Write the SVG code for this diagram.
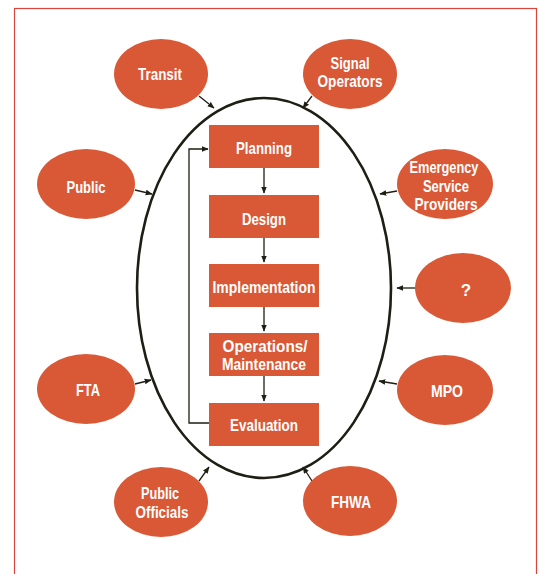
<svg xmlns="http://www.w3.org/2000/svg" width="541" height="574" viewBox="0 0 541 574">
<style>
.node{fill:#d95835}
.t{font-family:"Liberation Sans",Arial,sans-serif;font-weight:bold;font-size:17px;fill:#ffffff;text-anchor:middle}
.c{stroke:#1e1e14;stroke-width:1.3;fill:none}
</style>
<defs>
<marker id="ah" viewBox="0 0 10 10" refX="9" refY="5" markerWidth="7" markerHeight="7" markerUnits="userSpaceOnUse" orient="auto">
<path d="M0,1 L10,5 L0,9 z" fill="#1e1e14"/>
</marker>
</defs>
<rect x="14.5" y="8.5" width="522" height="620" fill="#ffffff" stroke="#d9453a" stroke-width="1.2"/>
<g id="frame">
<ellipse cx="264" cy="288" rx="127" ry="190" fill="none" stroke="#1e1e14" stroke-width="2.6"/>
</g>
<g id="connectors">
<line class="c" x1="264" y1="168" x2="264" y2="193" marker-end="url(#ah)"/>
<line class="c" x1="264" y1="238" x2="264" y2="262" marker-end="url(#ah)"/>
<line class="c" x1="264" y1="307" x2="264" y2="331" marker-end="url(#ah)"/>
<line class="c" x1="264" y1="376" x2="264" y2="401" marker-end="url(#ah)"/>
<polyline class="c" points="209,423 189,423 189,149 208,149" marker-end="url(#ah)"/>
<line class="c" x1="199" y1="96" x2="214" y2="108" marker-end="url(#ah)"/>
<line class="c" x1="312" y1="96" x2="303" y2="108" marker-end="url(#ah)"/>
<line class="c" x1="135" y1="190" x2="152" y2="194" marker-end="url(#ah)"/>
<line class="c" x1="397" y1="191" x2="380" y2="194" marker-end="url(#ah)"/>
<line class="c" x1="415" y1="288" x2="397" y2="288" marker-end="url(#ah)"/>
<line class="c" x1="135" y1="384" x2="151" y2="380" marker-end="url(#ah)"/>
<line class="c" x1="397" y1="384" x2="379" y2="381" marker-end="url(#ah)"/>
<line class="c" x1="199" y1="481" x2="209" y2="467" marker-end="url(#ah)"/>
<line class="c" x1="312" y1="481" x2="303" y2="467" marker-end="url(#ah)"/>
</g>
<g id="planning"><rect class="node" x="209" y="125" width="110" height="43"/><text class="t" x="264" y="154" textLength="56" lengthAdjust="spacingAndGlyphs">Planning</text></g>
<g id="design"><rect class="node" x="209" y="195" width="110" height="43"/><text class="t" x="264" y="225" textLength="44" lengthAdjust="spacingAndGlyphs">Design</text></g>
<g id="implementation"><rect class="node" x="209" y="264" width="110" height="43"/><text class="t" x="264" y="293" textLength="103" lengthAdjust="spacingAndGlyphs">Implementation</text></g>
<g id="operations"><rect class="node" x="209" y="333" width="110" height="43"/><text class="t" x="265" y="352" textLength="85" lengthAdjust="spacingAndGlyphs">Operations/</text><text class="t" x="264" y="370" textLength="84" lengthAdjust="spacingAndGlyphs">Maintenance</text></g>
<g id="evaluation"><rect class="node" x="209" y="403" width="110" height="43"/><text class="t" x="264" y="431" textLength="68" lengthAdjust="spacingAndGlyphs">Evaluation</text></g>
<g id="transit"><ellipse class="node" cx="161" cy="74" rx="47" ry="35"/><text class="t" x="160" y="80" textLength="44" lengthAdjust="spacingAndGlyphs">Transit</text></g>
<g id="signal"><ellipse class="node" cx="350" cy="74" rx="47" ry="35"/><text class="t" x="350" y="69" textLength="39" lengthAdjust="spacingAndGlyphs">Signal</text><text class="t" x="350" y="87" textLength="65" lengthAdjust="spacingAndGlyphs">Operators</text></g>
<g id="public"><ellipse class="node" cx="86" cy="184" rx="49" ry="35"/><text class="t" x="86" y="193" textLength="39" lengthAdjust="spacingAndGlyphs">Public</text></g>
<g id="emergency"><ellipse class="node" cx="445" cy="184" rx="48" ry="35"/><text class="t" x="444" y="173" textLength="69" lengthAdjust="spacingAndGlyphs">Emergency</text><text class="t" x="446" y="192" textLength="46" lengthAdjust="spacingAndGlyphs">Service</text><text class="t" x="446" y="210" textLength="63" lengthAdjust="spacingAndGlyphs">Providers</text></g>
<g id="unknown"><ellipse class="node" cx="463" cy="288" rx="48" ry="35"/><text class="t" x="466" y="296">?</text></g>
<g id="fta"><ellipse class="node" cx="86" cy="389" rx="49" ry="35"/><text class="t" x="88" y="396" textLength="24" lengthAdjust="spacingAndGlyphs">FTA</text></g>
<g id="mpo"><ellipse class="node" cx="445" cy="390" rx="48" ry="35"/><text class="t" x="447" y="397" textLength="32" lengthAdjust="spacingAndGlyphs">MPO</text></g>
<g id="officials"><ellipse class="node" cx="161" cy="502" rx="47" ry="35"/><text class="t" x="160" y="499" textLength="38" lengthAdjust="spacingAndGlyphs">Public</text><text class="t" x="162" y="518" textLength="53" lengthAdjust="spacingAndGlyphs">Officials</text></g>
<g id="fhwa"><ellipse class="node" cx="350" cy="501" rx="47" ry="35"/><text class="t" x="351" y="508" textLength="40" lengthAdjust="spacingAndGlyphs">FHWA</text></g>
</svg>
